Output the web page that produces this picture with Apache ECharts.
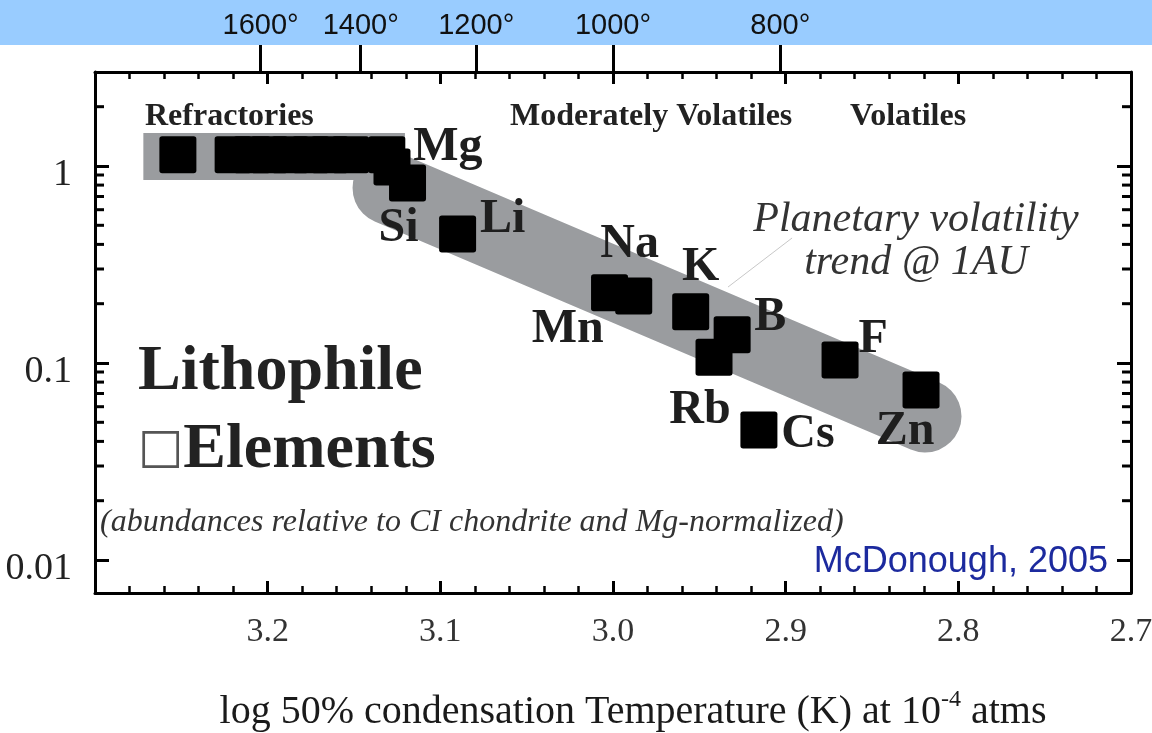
<!DOCTYPE html>
<html>
<head>
<meta charset="utf-8">
<script src="https://cdn.jsdelivr.net/npm/echarts@6/dist/echarts.min.js"></script>
<style>
html,body{margin:0;padding:0;background:#fff;overflow:hidden;}
#chart{width:1152px;height:733px;}
</style>
</head>
<body>
<div id="chart"></div>
<script>
// ---- data ----
const refracX = [3.252, 3.220, 3.209, 3.199, 3.187, 3.175, 3.164, 3.152];
const refracY = [1.14, 1.14, 1.14, 1.14, 1.14, 1.14, 1.14, 1.14];
const elemLabels = ['Mg', '', 'Si', 'Li', 'Na', 'Mn', 'K', 'B', 'Rb', 'Cs', 'F', 'Zn'];
const elemX = [3.131, 3.128, 3.119, 3.090, 3.002, 2.988, 2.955, 2.931, 2.9415, 2.9155, 2.8685, 2.8216];
const elemY = [1.14, 0.988, 0.82, 0.452, 0.227, 0.219, 0.182, 0.139, 0.107, 0.0457, 0.1036, 0.0729];
const bandFlatX = [3.272, 3.1205];
const bandFlatY = [1.117, 1.117];
const bandTrendX = [3.1297, 2.8193];
const bandTrendY = [0.773, 0.0538];
const leaderX = [2.9334, 2.8963];
const leaderY = [0.243, 0.431];
const tempTicks = [1600, 1400, 1200, 1000, 800];
const yMinorTicks = [0.02,0.03,0.04,0.05,0.06,0.07,0.08,0.09,0.2,0.3,0.4,0.5,0.6,0.7,0.8,0.9,2];
const xMin = 2.7, xMax = 3.3, yMin = 0.0068, yMax = 3;

// ---- layout / styles ----
const SERIF = '"Liberation Serif","Times New Roman",serif';
const SANS = '"Liberation Sans",Arial,sans-serif';
const SQUARE = 'path://M3,0 H37 Q40,0 40,3 V37 Q40,40 37,40 H3 Q0,40 0,37 V3 Q0,0 3,0 Z';
const labelOffsets = {
  Mg: [61, -7], Si: [-9, 46], Li: [45, -14], Na: [20, -48], Mn: [-66, 34],
  K: [10, -44], B: [38, -17], Rb: [-14, 53], Cs: [49, 5], F: [33, -20], Zn: [-16, 42]
};

const zip = (a, b) => a.map((v, i) => [v, b[i]]);

const chart = echarts.init(document.getElementById('chart'), null, {renderer: 'canvas'});

const xCommon = {
  type: 'value', min: xMin, max: xMax, interval: 0.1, inverse: true,
  splitLine: {show: false},
  axisLine: {show: true, lineStyle: {color: '#000', width: 3}},
  axisTick: {show: true, inside: true, length: 12, lineStyle: {color: '#000', width: 3}},
  minorTick: {show: true, splitNumber: 5, length: 7, lineStyle: {color: '#000', width: 2.5}}
};
const yCommon = {
  type: 'log', logBase: 10, min: yMin, max: yMax,
  splitLine: {show: false},
  axisLine: {show: true, lineStyle: {color: '#000', width: 3}},
  axisTick: {show: true, inside: true, length: 14, lineStyle: {color: '#000', width: 3}},
  minorTick: {show: false}
};

const option = {
  animation: false,
  backgroundColor: '#fff',
  grid: {left: 95, right: 21, top: 72, bottom: 140, containLabel: false, outerBoundsMode: 'none'},
  xAxis: [
    Object.assign({}, xCommon, {
      position: 'bottom',
      axisLabel: {
        show: true, margin: 22, showMaxLabel: false,
        fontFamily: SERIF, fontSize: 34, color: '#333',
        formatter: v => v.toFixed(1)
      },
      name: '{t|log 50% condensation Temperature (K) at 10}{s|-4}{t| atms}',
      nameLocation: 'middle', nameGap: 95,
      nameTextStyle: {
        padding: [0, 0, 0, 40],
        rich: {
          t: {fontFamily: SERIF, fontSize: 40, color: '#1a1a1a', lineHeight: 48},
          s: {fontFamily: SERIF, fontSize: 24, color: '#1a1a1a', lineHeight: 26, verticalAlign: 'top'}
        }
      }
    }),
    Object.assign({}, xCommon, {position: 'top', axisLabel: {show: false}}),
    {
      type: 'value', min: xMin, max: xMax, inverse: true, position: 'top',
      splitLine: {show: false},
      axisLine: {show: false},
      axisTick: {show: true, inside: false, length: 27, lineStyle: {color: '#000', width: 3},
                 customValues: tempTicks.map(t => Math.log10(t))},
      axisLabel: {show: true, margin: 32, customValues: tempTicks.map(t => Math.log10(t)),
                  fontFamily: SANS, fontSize: 29, color: '#111',
                  formatter: v => Math.round(Math.pow(10, v)) + '°'}
    }
  ],
  yAxis: [
    Object.assign({}, yCommon, {
      position: 'left',
      axisLabel: {show: true, margin: 23, showMinLabel: false, showMaxLabel: false,
                  formatter: v => '{v|' + String(+v.toPrecision(3)) + '}',
                  rich: {v: {fontFamily: SERIF, fontSize: 38, color: '#222', padding: [18, 0, 0, 0]}}}
    }),
    Object.assign({}, yCommon, {position: 'right', axisLabel: {show: false}})
  ],
  graphic: [
    {type: 'rect', z: -10, shape: {x: 0, y: 0, width: 1152, height: 45}, style: {fill: '#99ccff'}, silent: true},
    {type: 'text', x: 145, y: 117, style: {text: 'Refractories', font: 'bold 32px ' + SERIF, fill: '#222', align: 'left', verticalAlign: 'middle'}},
    {type: 'text', x: 510, y: 117, style: {text: 'Moderately Volatiles', font: 'bold 32px ' + SERIF, fill: '#222', align: 'left', verticalAlign: 'middle'}},
    {type: 'text', x: 850, y: 117, style: {text: 'Volatiles', font: 'bold 32px ' + SERIF, fill: '#222', align: 'left', verticalAlign: 'middle'}},
    {type: 'text', x: 138, y: 372, style: {text: 'Lithophile', font: 'bold 64px ' + SERIF, fill: '#222', align: 'left', verticalAlign: 'middle'}},
    {type: 'text', x: 138, y: 450, style: {
      text: '{b|□}{e|Elements}', align: 'left', verticalAlign: 'middle',
      rich: {b: {font: '48px "DejaVu Sans",sans-serif', fill: '#555'}, e: {font: 'bold 64px ' + SERIF, fill: '#222'}}}},
    {type: 'text', x: 100, y: 523, style: {text: '(abundances relative to CI chondrite and Mg-normalized)', font: 'italic 32px ' + SERIF, fill: '#333', align: 'left', verticalAlign: 'middle'}},
    {type: 'text', x: 1108, y: 562, style: {text: 'McDonough, 2005', font: '36px ' + SANS, fill: '#1c2a9e', align: 'right', verticalAlign: 'middle'}},
    {type: 'text', x: 916, y: 220, style: {text: 'Planetary volatility', font: 'italic 42px ' + SERIF, fill: '#333', align: 'center', verticalAlign: 'middle'}},
    {type: 'text', x: 916, y: 263, style: {text: 'trend @ 1AU', font: 'italic 42px ' + SERIF, fill: '#333', align: 'center', verticalAlign: 'middle'}}
  ],
  series: [
    {
      type: 'line', name: 'refractory band', z: 1, silent: true, symbol: 'none',
      data: zip(bandFlatX, bandFlatY),
      lineStyle: {width: 47, color: '#9a9c9f', cap: 'butt'}
    },
    {
      type: 'line', name: 'volatility trend', z: 1, silent: true, symbol: 'none',
      data: zip(bandTrendX, bandTrendY),
      lineStyle: {width: 73, color: '#9a9c9f', cap: 'round'}
    },
    {
      type: 'line', name: 'leader', z: 2, silent: true, symbol: 'none',
      data: zip(leaderX, leaderY),
      lineStyle: {width: 1, color: '#c8c8c8'}
    },
    {
      type: 'custom', name: 'log minor ticks', z: 5, silent: true,
      data: yMinorTicks.map(v => [xMax, v]),
      renderItem: function (params, api) {
        const v = api.value(1);
        const l = api.coord([xMax, v]);
        const r = api.coord([xMin, v]);
        return {type: 'group', children: [
          {type: 'line', shape: {x1: l[0], y1: l[1], x2: l[0] + 9, y2: l[1]}, style: {stroke: '#000', lineWidth: 3}},
          {type: 'line', shape: {x1: r[0], y1: r[1], x2: r[0] - 9, y2: r[1]}, style: {stroke: '#000', lineWidth: 3}}
        ]};
      }
    },
    {
      type: 'scatter', name: 'refractories', z: 3, silent: true,
      symbol: SQUARE, symbolSize: 37, itemStyle: {color: '#000', opacity: 1},
      data: zip(refracX, refracY)
    },
    {
      type: 'scatter', name: 'elements', z: 3, silent: true,
      symbol: SQUARE, symbolSize: 37, itemStyle: {color: '#000', opacity: 1},
      data: elemX.map((x, i) => {
        const name = elemLabels[i];
        const d = {value: [x, elemY[i]], name: name};
        if (name) {
          d.label = {show: true, position: 'inside', offset: labelOffsets[name], formatter: name,
                     fontFamily: SERIF, fontWeight: 'bold', fontSize: 48, color: '#1e1e1e', opacity: 1,
                     align: 'center', verticalAlign: 'middle'};
        }
        return d;
      })
    }
  ]
};
chart.setOption(option);
</script>
</body>
</html>
